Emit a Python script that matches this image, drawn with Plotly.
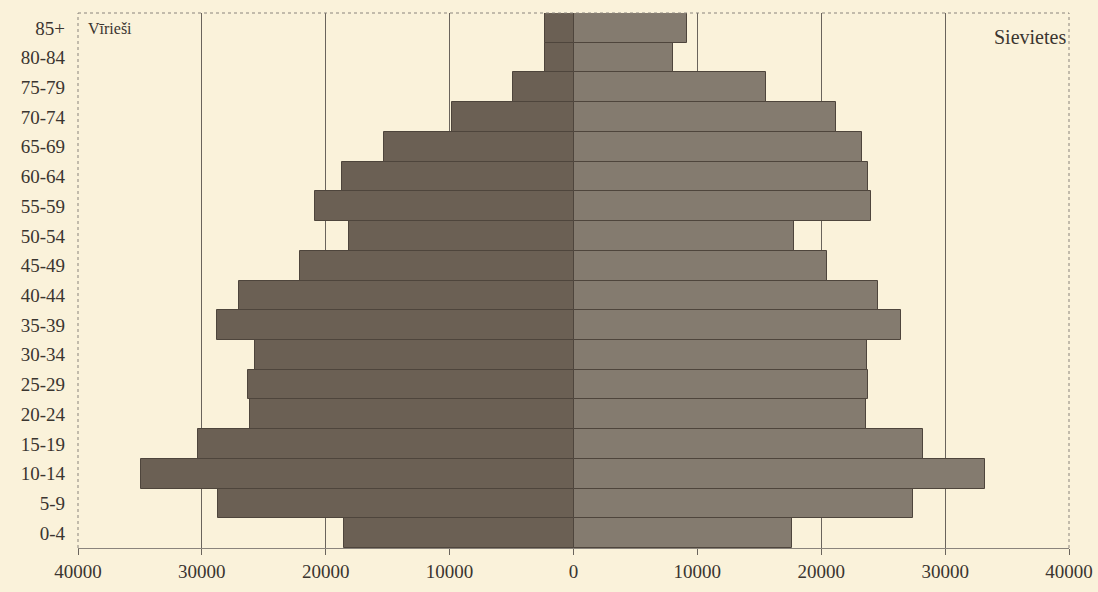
import plotly.graph_objects as go

age_groups = ["0-4", "5-9", "10-14", "15-19", "20-24", "25-29", "30-34", "35-39",
              "40-44", "45-49", "50-54", "55-59", "60-64", "65-69", "70-74",
              "75-79", "80-84", "85+"]
males = [18500, 28700, 34900, 30300, 26100, 26300, 25700, 28800,
         27000, 22100, 18100, 20900, 18700, 15300, 9800, 4900, 2300, 2300]
females = [17600, 27400, 33200, 28200, 23600, 23800, 23700, 26400,
           24600, 20500, 17800, 24000, 23800, 23300, 21200, 15500, 8000, 9200]
tick_values = [-40000, -30000, -20000, -10000, 0, 10000, 20000, 30000, 40000]
tick_labels = ["40000", "30000", "20000", "10000", "0", "10000", "20000", "30000", "40000"]

bg = "#faf2da"
fig = go.Figure()
fig.add_trace(go.Bar(
    y=age_groups, x=[-v for v in males], orientation="h", name="Vīrieši",
    marker=dict(color="#6b6054", line=dict(color="#4e453c", width=1)),
    hoverinfo="skip"))
fig.add_trace(go.Bar(
    y=age_groups, x=females, orientation="h", name="Sievietes",
    marker=dict(color="#847b6f", line=dict(color="#4e453c", width=1)),
    hoverinfo="skip"))

fig.update_layout(
    width=1098, height=592,
    margin=dict(l=78, r=29, t=13, b=44),
    paper_bgcolor=bg, plot_bgcolor=bg,
    barmode="overlay", bargap=0,
    showlegend=False,
    font=dict(family="Liberation Serif, Times New Roman, serif", color="#3a3530", size=18),
    xaxis=dict(range=[-40000, 40000], tickvals=tick_values, ticktext=tick_labels,
               showgrid=True, gridcolor="#6a645c", gridwidth=1, zeroline=False,
               showline=True, linecolor="#8a847c", linewidth=1,
               ticks="outside", ticklen=6, tickcolor="#6a645c",
               tickfont=dict(size=19), fixedrange=True, automargin=False),
    yaxis=dict(showgrid=False, zeroline=False, ticks="", showline=False,
               tickfont=dict(size=19), ticklabelstandoff=12, fixedrange=True,
               range=[-0.5, 17.5], automargin=False),
)

# dotted frame on left, top, right
for x0, y0, x1, y1 in [(0, 0, 0, 1), (0, 1, 1, 1), (1, 0, 1, 1)]:
    fig.add_shape(type="line", xref="paper", yref="paper", x0=x0, y0=y0, x1=x1, y1=y1,
                  line=dict(color="#8a847c", width=1, dash="dot"))

fig.add_annotation(text="Vīrieši", xref="paper", yref="paper", x=0.008, y=0.99,
                   xanchor="left", yanchor="top", showarrow=False,
                   font=dict(size=16, color="#3a3530"))
fig.add_annotation(text="Sievietes", xref="paper", yref="paper", x=0.999, y=0.98,
                   xanchor="right", yanchor="top", showarrow=False,
                   font=dict(size=20, color="#3a3530"))

fig.write_html("out.html", config={"displayModeBar": False},
               post_script="document.body.style.margin='0';document.body.style.background='" + bg + "';")
